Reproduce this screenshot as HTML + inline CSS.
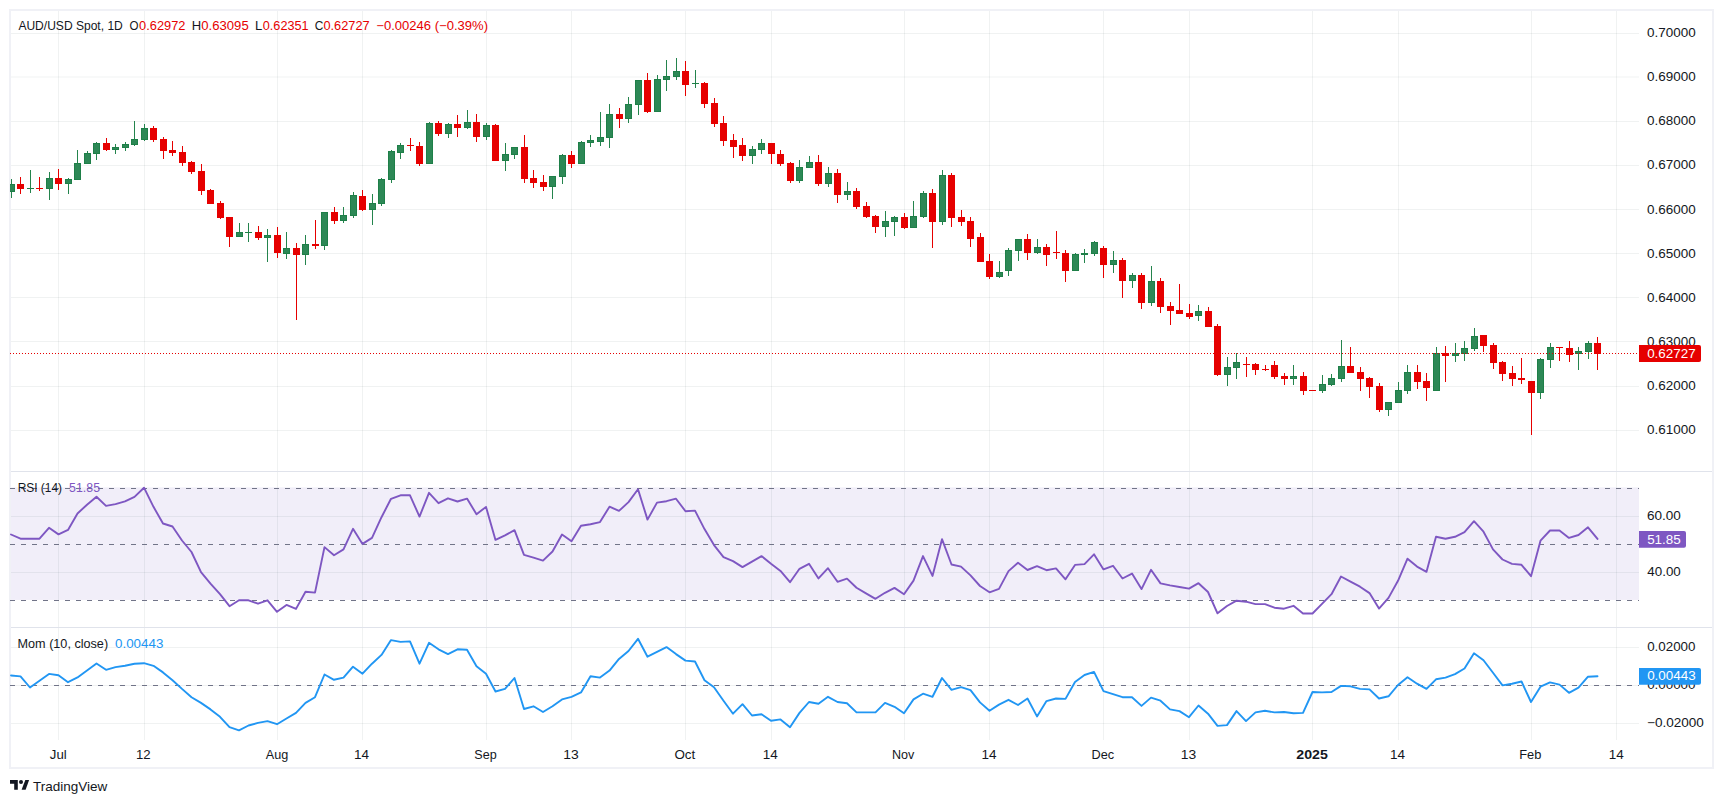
<!DOCTYPE html>
<html lang="en"><head><meta charset="utf-8"><title>AUD/USD Spot, 1D</title>
<style>html,body{margin:0;padding:0;background:#fff;overflow:hidden}svg{display:block}</style></head>
<body>
<svg width="1723" height="803" viewBox="0 0 1723 803" font-family="'Liberation Sans', sans-serif" font-size="12.3px">
<rect width="1723" height="803" fill="#fff"/>
<rect x="11" y="487.4" width="1628" height="112.5" fill="#f1eef9"/>
<g stroke="#203636" stroke-opacity="0.066" stroke-width="1" fill="none">
<path d="M58.5 11V740"/>
<path d="M144.5 11V740"/>
<path d="M277.5 11V740"/>
<path d="M362.5 11V740"/>
<path d="M486.5 11V740"/>
<path d="M571.5 11V740"/>
<path d="M685.5 11V740"/>
<path d="M771.5 11V740"/>
<path d="M904.5 11V740"/>
<path d="M989.5 11V740"/>
<path d="M1103.5 11V740"/>
<path d="M1189.5 11V740"/>
<path d="M1312.5 11V740"/>
<path d="M1398.5 11V740"/>
<path d="M1531.5 11V740"/>
<path d="M1616.5 11V740"/>
<path d="M11 33.5H1639"/>
<path d="M11 77.0H1639"/>
<path d="M11 121.5H1639"/>
<path d="M11 165.5H1639"/>
<path d="M11 209.5H1639"/>
<path d="M11 253.5H1639"/>
<path d="M11 297.5H1639"/>
<path d="M11 341.5H1639"/>
<path d="M11 386.5H1639"/>
<path d="M11 430.5H1639"/>
<path d="M11 516.5H1639"/>
<path d="M11 572.5H1639"/>
<path d="M11 647.5H1639"/>
<path d="M11 685.5H1639"/>
<path d="M11 723.5H1639"/>
</g>
<path d="M11 471.5H1713M11 627.5H1713" stroke="#e0e3eb" stroke-width="1" fill="none"/>
<rect x="10" y="10" width="1703" height="758" fill="none" stroke="#f0f1f6" stroke-width="2"/>
<g stroke="#717488" stroke-width="1" stroke-dasharray="5 6" fill="none">
<path d="M10 488.5H1639"/>
<path d="M10 544.5H1639"/>
<path d="M10 600.5H1639"/>
<path d="M10 685.5H1639"/>
</g>
<defs><clipPath id="cp"><rect x="10" y="11" width="1629" height="729"/></clipPath></defs>
<g clip-path="url(#cp)">
<path fill="#24844d" d="M11 179h1v5h-1zM11 192h1v6h-1zM30 170h1v18h-1zM30 189h1v4h-1zM49 172h1v6h-1zM49 189h1v11h-1zM68 178h1v1h-1zM68 184h1v10h-1zM77 150h1v13h-1zM87 151h1v2h-1zM96 142h1v1h-1zM96 154h1v6h-1zM115 144h1v3h-1zM115 150h1v4h-1zM125 142h1v2h-1zM125 148h1v3h-1zM134 121h1v18h-1zM134 145h1v1h-1zM144 124h1v4h-1zM144 140h1v1h-1zM239 223h1v9h-1zM248 223h1v9h-1zM248 233h1v9h-1zM267 229h1v6h-1zM267 238h1v24h-1zM286 232h1v16h-1zM286 254h1v5h-1zM305 235h1v9h-1zM305 255h1v10h-1zM324 246h1v4h-1zM343 207h1v8h-1zM343 221h1v2h-1zM353 192h1v3h-1zM353 216h1v2h-1zM372 194h1v9h-1zM372 210h1v15h-1zM381 178h1v1h-1zM381 204h1v2h-1zM391 150h1v1h-1zM391 180h1v3h-1zM400 143h1v2h-1zM400 153h1v6h-1zM429 122h1v1h-1zM448 123h1v1h-1zM448 134h1v4h-1zM467 110h1v12h-1zM467 128h1v1h-1zM486 123h1v2h-1zM486 137h1v3h-1zM505 143h1v11h-1zM505 161h1v10h-1zM514 155h1v4h-1zM552 187h1v12h-1zM562 154h1v1h-1zM562 177h1v7h-1zM581 141h1v1h-1zM590 135h1v5h-1zM590 143h1v4h-1zM600 112h1v25h-1zM600 142h1v4h-1zM609 104h1v10h-1zM609 138h1v10h-1zM628 97h1v7h-1zM628 119h1v4h-1zM638 105h1v10h-1zM657 75h1v4h-1zM666 60h1v16h-1zM666 80h1v11h-1zM676 58h1v13h-1zM676 77h1v3h-1zM695 70h1v13h-1zM695 84h1v4h-1zM752 146h1v3h-1zM752 156h1v8h-1zM761 139h1v4h-1zM761 150h1v4h-1zM799 160h1v7h-1zM799 181h1v2h-1zM809 156h1v6h-1zM828 167h1v6h-1zM828 184h1v3h-1zM847 182h1v9h-1zM847 195h1v5h-1zM885 211h1v10h-1zM885 227h1v10h-1zM894 216h1v1h-1zM894 222h1v14h-1zM913 201h1v15h-1zM923 191h1v2h-1zM923 217h1v1h-1zM942 170h1v5h-1zM942 222h1v3h-1zM999 261h1v11h-1zM999 277h1v1h-1zM1008 248h1v2h-1zM1008 271h1v5h-1zM1018 251h1v10h-1zM1037 239h1v8h-1zM1037 253h1v1h-1zM1075 253h1v1h-1zM1084 249h1v4h-1zM1084 255h1v8h-1zM1094 241h1v1h-1zM1094 254h1v2h-1zM1113 251h1v9h-1zM1113 265h1v8h-1zM1132 273h1v2h-1zM1132 281h1v7h-1zM1151 266h1v15h-1zM1151 303h1v3h-1zM1198 305h1v6h-1zM1198 316h1v5h-1zM1227 357h1v10h-1zM1227 375h1v11h-1zM1236 353h1v9h-1zM1236 368h1v11h-1zM1293 365h1v11h-1zM1293 379h1v6h-1zM1322 375h1v9h-1zM1322 391h1v2h-1zM1331 374h1v4h-1zM1331 385h1v1h-1zM1341 340h1v26h-1zM1341 379h1v3h-1zM1388 410h1v6h-1zM1398 382h1v8h-1zM1407 365h1v7h-1zM1407 391h1v3h-1zM1436 347h1v6h-1zM1455 343h1v10h-1zM1455 356h1v6h-1zM1464 341h1v7h-1zM1464 354h1v7h-1zM1474 328h1v8h-1zM1474 349h1v2h-1zM1540 358h1v1h-1zM1540 393h1v6h-1zM1550 343h1v4h-1zM1550 360h1v8h-1zM1578 347h1v4h-1zM1578 354h1v16h-1zM1588 341h1v2h-1zM1588 352h1v7h-1z"/>
<path fill="#1e7f48" d="M8 184h7v8h-7zM27 188h7v1h-7zM46 178h7v11h-7zM65 179h7v5h-7zM74 163h7v17h-7zM84 153h7v11h-7zM93 143h7v11h-7zM112 147h7v3h-7zM122 144h7v4h-7zM131 139h7v6h-7zM141 128h7v12h-7zM236 232h7v5h-7zM245 232h7v1h-7zM264 235h7v3h-7zM283 248h7v6h-7zM302 244h7v11h-7zM321 212h7v34h-7zM340 215h7v6h-7zM350 195h7v21h-7zM369 203h7v7h-7zM378 179h7v25h-7zM388 151h7v29h-7zM397 145h7v8h-7zM426 123h7v41h-7zM445 124h7v10h-7zM464 122h7v6h-7zM483 125h7v12h-7zM502 154h7v7h-7zM511 147h7v8h-7zM549 176h7v11h-7zM559 155h7v22h-7zM578 142h7v22h-7zM587 140h7v3h-7zM597 137h7v5h-7zM606 114h7v24h-7zM625 104h7v15h-7zM635 80h7v25h-7zM654 79h7v33h-7zM663 76h7v4h-7zM673 71h7v6h-7zM692 83h7v1h-7zM749 149h7v7h-7zM758 143h7v7h-7zM796 167h7v14h-7zM806 162h7v6h-7zM825 173h7v11h-7zM844 191h7v4h-7zM882 221h7v6h-7zM891 217h7v5h-7zM910 216h7v12h-7zM920 193h7v24h-7zM939 175h7v47h-7zM996 272h7v5h-7zM1005 250h7v21h-7zM1015 239h7v12h-7zM1034 247h7v6h-7zM1072 254h7v17h-7zM1081 253h7v2h-7zM1091 242h7v12h-7zM1110 260h7v5h-7zM1129 275h7v6h-7zM1148 281h7v22h-7zM1195 311h7v5h-7zM1224 367h7v8h-7zM1233 362h7v6h-7zM1290 376h7v3h-7zM1319 384h7v7h-7zM1328 378h7v7h-7zM1338 366h7v13h-7zM1385 402h7v8h-7zM1395 390h7v13h-7zM1404 372h7v19h-7zM1433 353h7v38h-7zM1452 353h7v3h-7zM1461 348h7v6h-7zM1471 336h7v13h-7zM1537 359h7v34h-7zM1547 347h7v13h-7zM1575 351h7v3h-7zM1585 343h7v9h-7z"/>
<path fill="#2d8856" d="M9 185h5v6h-5zM47 179h5v9h-5zM66 180h5v3h-5zM75 164h5v15h-5zM85 154h5v9h-5zM94 144h5v9h-5zM113 148h5v1h-5zM123 145h5v2h-5zM132 140h5v4h-5zM142 129h5v10h-5zM237 233h5v3h-5zM265 236h5v1h-5zM284 249h5v4h-5zM303 245h5v9h-5zM322 213h5v32h-5zM341 216h5v4h-5zM351 196h5v19h-5zM370 204h5v5h-5zM379 180h5v23h-5zM389 152h5v27h-5zM398 146h5v6h-5zM427 124h5v39h-5zM446 125h5v8h-5zM465 123h5v4h-5zM484 126h5v10h-5zM503 155h5v5h-5zM512 148h5v6h-5zM550 177h5v9h-5zM560 156h5v20h-5zM579 143h5v20h-5zM588 141h5v1h-5zM598 138h5v3h-5zM607 115h5v22h-5zM626 105h5v13h-5zM636 81h5v23h-5zM655 80h5v31h-5zM664 77h5v2h-5zM674 72h5v4h-5zM750 150h5v5h-5zM759 144h5v5h-5zM797 168h5v12h-5zM807 163h5v4h-5zM826 174h5v9h-5zM845 192h5v2h-5zM883 222h5v4h-5zM892 218h5v3h-5zM911 217h5v10h-5zM921 194h5v22h-5zM940 176h5v45h-5zM997 273h5v3h-5zM1006 251h5v19h-5zM1016 240h5v10h-5zM1035 248h5v4h-5zM1073 255h5v15h-5zM1092 243h5v10h-5zM1111 261h5v3h-5zM1130 276h5v4h-5zM1149 282h5v20h-5zM1196 312h5v3h-5zM1225 368h5v6h-5zM1234 363h5v4h-5zM1291 377h5v1h-5zM1320 385h5v5h-5zM1329 379h5v5h-5zM1339 367h5v11h-5zM1386 403h5v6h-5zM1396 391h5v11h-5zM1405 373h5v17h-5zM1434 354h5v36h-5zM1453 354h5v1h-5zM1462 349h5v4h-5zM1472 337h5v11h-5zM1538 360h5v32h-5zM1548 348h5v11h-5zM1576 352h5v1h-5zM1586 344h5v7h-5z"/>
<path fill="#e60000" d="M17 184h7v5h-7zM20 177h1v7h-1zM20 189h1v5h-1zM36 188h7v1h-7zM39 177h1v11h-1zM39 189h1v2h-1zM55 178h7v6h-7zM58 169h1v9h-1zM58 184h1v6h-1zM103 143h7v7h-7zM106 138h1v5h-1zM106 150h1v1h-1zM150 128h7v12h-7zM153 126h1v2h-1zM153 140h1v2h-1zM160 139h7v12h-7zM163 137h1v2h-1zM163 151h1v8h-1zM169 150h7v3h-7zM172 141h1v9h-1zM172 153h1v3h-1zM179 152h7v11h-7zM182 146h1v6h-1zM182 163h1v3h-1zM188 162h7v10h-7zM191 161h1v1h-1zM191 172h1v2h-1zM198 171h7v20h-7zM201 164h1v7h-1zM201 191h1v4h-1zM207 190h7v14h-7zM210 189h1v1h-1zM217 203h7v15h-7zM220 201h1v2h-1zM220 218h1v1h-1zM226 217h7v20h-7zM229 237h1v10h-1zM255 232h7v6h-7zM258 226h1v6h-1zM258 238h1v2h-1zM274 235h7v18h-7zM277 227h1v8h-1zM277 253h1v5h-1zM293 248h7v7h-7zM296 243h1v5h-1zM296 255h1v65h-1zM312 244h7v2h-7zM315 220h1v24h-1zM315 246h1v3h-1zM331 212h7v9h-7zM334 207h1v5h-1zM334 221h1v3h-1zM359 196h7v14h-7zM362 190h1v6h-1zM362 210h1v1h-1zM407 145h7v1h-7zM410 138h1v7h-1zM410 146h1v5h-1zM416 146h7v18h-7zM419 142h1v4h-1zM419 164h1v2h-1zM435 123h7v11h-7zM438 121h1v2h-1zM438 134h1v2h-1zM454 124h7v4h-7zM457 115h1v9h-1zM457 128h1v9h-1zM473 122h7v15h-7zM476 114h1v8h-1zM476 137h1v5h-1zM492 125h7v36h-7zM495 124h1v1h-1zM521 147h7v32h-7zM524 135h1v12h-1zM524 179h1v4h-1zM530 178h7v5h-7zM533 170h1v8h-1zM533 183h1v5h-1zM540 182h7v5h-7zM543 175h1v7h-1zM543 187h1v4h-1zM568 155h7v9h-7zM571 151h1v4h-1zM571 164h1v4h-1zM616 114h7v5h-7zM619 108h1v6h-1zM619 119h1v9h-1zM644 80h7v32h-7zM647 73h1v7h-1zM647 112h1v1h-1zM682 71h7v14h-7zM685 61h1v10h-1zM685 85h1v11h-1zM701 83h7v21h-7zM704 82h1v1h-1zM704 104h1v4h-1zM711 103h7v21h-7zM714 98h1v5h-1zM714 124h1v3h-1zM720 123h7v18h-7zM723 116h1v7h-1zM723 141h1v5h-1zM730 140h7v7h-7zM733 134h1v6h-1zM733 147h1v11h-1zM739 145h7v11h-7zM742 138h1v7h-1zM742 156h1v5h-1zM768 143h7v11h-7zM771 154h1v10h-1zM777 154h7v10h-7zM780 150h1v4h-1zM780 164h1v2h-1zM787 163h7v18h-7zM790 162h1v1h-1zM790 181h1v2h-1zM815 162h7v22h-7zM818 155h1v7h-1zM818 184h1v2h-1zM834 173h7v22h-7zM837 169h1v4h-1zM837 195h1v8h-1zM853 191h7v16h-7zM856 188h1v3h-1zM856 207h1v2h-1zM863 206h7v11h-7zM866 202h1v4h-1zM866 217h1v1h-1zM872 216h7v11h-7zM875 215h1v1h-1zM875 227h1v6h-1zM901 217h7v11h-7zM904 213h1v4h-1zM904 228h1v1h-1zM929 193h7v29h-7zM932 189h1v4h-1zM932 222h1v26h-1zM948 175h7v43h-7zM951 173h1v2h-1zM951 218h1v9h-1zM958 217h7v5h-7zM961 210h1v7h-1zM961 222h1v4h-1zM967 221h7v18h-7zM970 217h1v4h-1zM970 239h1v8h-1zM977 237h7v25h-7zM980 233h1v4h-1zM986 261h7v16h-7zM989 254h1v7h-1zM989 277h1v2h-1zM1024 239h7v14h-7zM1027 234h1v5h-1zM1027 253h1v7h-1zM1043 247h7v8h-7zM1046 244h1v3h-1zM1046 255h1v11h-1zM1053 252h7v1h-7zM1056 231h1v21h-1zM1056 253h1v6h-1zM1062 253h7v18h-7zM1065 250h1v3h-1zM1065 271h1v11h-1zM1100 248h7v17h-7zM1103 246h1v2h-1zM1103 265h1v13h-1zM1119 260h7v21h-7zM1122 258h1v2h-1zM1122 281h1v17h-1zM1138 275h7v28h-7zM1141 273h1v2h-1zM1141 303h1v6h-1zM1157 281h7v26h-7zM1160 278h1v3h-1zM1160 307h1v6h-1zM1167 306h7v5h-7zM1170 302h1v4h-1zM1170 311h1v14h-1zM1176 310h7v4h-7zM1179 284h1v26h-1zM1186 313h7v4h-7zM1189 304h1v9h-1zM1189 317h1v2h-1zM1205 311h7v16h-7zM1208 307h1v4h-1zM1214 326h7v49h-7zM1217 324h1v2h-1zM1217 375h1v1h-1zM1243 364h7v1h-7zM1246 357h1v7h-1zM1246 365h1v12h-1zM1252 364h7v6h-7zM1255 363h1v1h-1zM1255 370h1v5h-1zM1262 369h7v1h-7zM1265 365h1v4h-1zM1265 370h1v1h-1zM1271 365h7v12h-7zM1274 361h1v4h-1zM1274 377h1v2h-1zM1281 376h7v3h-7zM1284 373h1v3h-1zM1284 379h1v6h-1zM1300 376h7v15h-7zM1303 372h1v4h-1zM1303 391h1v4h-1zM1309 390h7v1h-7zM1347 366h7v7h-7zM1350 347h1v19h-1zM1357 372h7v7h-7zM1360 367h1v5h-1zM1360 379h1v12h-1zM1366 378h7v9h-7zM1369 377h1v1h-1zM1369 387h1v11h-1zM1376 386h7v24h-7zM1379 383h1v3h-1zM1379 410h1v2h-1zM1414 372h7v10h-7zM1417 365h1v7h-1zM1417 382h1v7h-1zM1423 381h7v7h-7zM1426 373h1v8h-1zM1426 388h1v13h-1zM1442 353h7v3h-7zM1445 346h1v7h-1zM1445 356h1v26h-1zM1480 335h7v11h-7zM1483 346h1v6h-1zM1490 345h7v18h-7zM1493 343h1v2h-1zM1493 363h1v6h-1zM1499 362h7v12h-7zM1502 361h1v1h-1zM1502 374h1v7h-1zM1509 373h7v6h-7zM1512 366h1v7h-1zM1512 379h1v7h-1zM1518 378h7v2h-7zM1521 358h1v20h-1zM1521 380h1v4h-1zM1528 381h7v12h-7zM1531 393h1v42h-1zM1556 347h7v1h-7zM1559 348h1v13h-1zM1566 348h7v7h-7zM1569 341h1v7h-1zM1569 355h1v7h-1zM1594 343h7v11h-7zM1597 337h1v6h-1zM1597 354h1v16h-1z"/>
<path d="M10 353.5H1639" stroke="#e60000" stroke-width="1" stroke-dasharray="1 2" fill="none"/>
<polyline points="11.0,534.5 20.5,538.7 30.0,538.7 39.5,538.7 49.0,527.8 58.5,534.4 68.0,529.9 77.5,513.5 87.0,504.7 96.5,496.7 106.0,505.9 115.5,504.1 125.0,501.4 134.5,496.9 144.0,487.7 153.5,506.8 163.0,523.5 172.5,526.5 182.0,540.5 191.5,552.0 201.0,572.2 210.5,583.6 220.0,594.2 229.5,606.2 239.0,600.3 248.5,600.3 258.0,603.7 267.5,600.3 277.0,611.8 286.5,604.9 296.0,608.9 305.5,591.7 315.0,592.6 324.5,547.1 334.0,555.2 343.5,549.4 353.0,528.8 362.5,543.9 372.0,537.9 381.5,517.2 391.0,498.8 400.5,495.3 410.0,495.3 419.5,516.6 429.0,492.8 438.5,503.2 448.0,498.3 457.5,501.5 467.0,498.6 476.5,514.2 486.0,506.9 495.5,539.9 505.0,535.4 514.5,530.2 524.0,554.9 533.5,557.7 543.0,560.6 552.5,551.5 562.0,534.5 571.5,541.3 581.0,525.7 590.5,524.3 600.0,522.1 609.5,506.7 619.0,510.9 628.5,502.1 638.0,489.2 647.5,519.6 657.0,502.6 666.5,501.2 676.0,498.7 685.5,511.2 695.0,510.6 704.5,529.1 714.0,545.1 723.5,557.1 733.0,561.1 742.5,567.1 752.0,561.6 761.5,556.1 771.0,563.7 780.5,570.9 790.0,582.2 799.5,568.8 809.0,563.8 818.5,578.4 828.0,568.2 837.5,581.8 847.0,578.6 856.5,587.8 866.0,593.4 875.5,598.8 885.0,592.8 894.5,587.9 904.0,594.2 913.5,580.6 923.0,556.1 932.5,575.9 942.0,539.2 951.5,564.5 961.0,566.6 970.5,575.4 980.0,586.0 989.5,592.3 999.0,588.9 1008.5,571.1 1018.0,562.8 1027.5,570.0 1037.0,566.1 1046.5,570.2 1056.0,568.4 1065.5,579.3 1075.0,564.9 1084.5,564.1 1094.0,554.3 1103.5,569.4 1113.0,565.8 1122.5,578.5 1132.0,573.6 1141.5,589.1 1151.0,569.8 1160.5,583.4 1170.0,585.4 1179.5,587.0 1189.0,588.6 1198.5,583.2 1208.0,592.0 1217.5,613.3 1227.0,606.0 1236.5,600.7 1246.0,601.7 1255.5,604.1 1265.0,604.1 1274.5,607.7 1284.0,608.7 1293.5,605.8 1303.0,613.5 1312.5,613.5 1322.0,603.8 1331.5,594.2 1341.0,576.5 1350.5,581.6 1360.0,586.7 1369.5,593.1 1379.0,608.6 1388.5,597.9 1398.0,580.8 1407.5,558.7 1417.0,566.6 1426.5,571.8 1436.0,536.8 1445.5,538.7 1455.0,536.8 1464.5,532.1 1474.0,521.2 1483.5,531.7 1493.0,549.4 1502.5,559.5 1512.0,563.9 1521.5,564.8 1531.0,576.2 1540.5,540.7 1550.0,530.5 1559.5,530.5 1569.0,537.9 1578.5,535.0 1588.0,527.3 1597.5,538.9" fill="none" stroke="#7e57c2" stroke-width="1.9" stroke-linejoin="round" stroke-linecap="round"/>
<polyline points="11.0,675.5 20.5,676.4 30.0,687.5 39.5,680.8 49.0,673.9 58.5,675.2 68.0,682.2 77.5,677.4 87.0,670.6 96.5,663.5 106.0,669.8 115.5,667.1 125.0,665.8 134.5,663.7 144.0,663.2 153.5,665.8 163.0,672.4 172.5,680.2 182.0,688.9 191.5,697.2 201.0,702.9 210.5,709.4 220.0,716.8 229.5,727.2 239.0,730.3 248.5,725.5 258.0,722.9 267.5,721.1 277.0,724.2 286.5,718.5 296.0,712.9 305.5,702.9 315.0,697.2 324.5,674.5 334.0,679.8 343.5,677.6 353.0,666.7 362.5,673.7 372.0,663.7 381.5,654.9 391.0,640.1 400.5,641.9 410.0,641.4 419.5,663.7 429.0,642.8 438.5,649.3 448.0,654.1 457.5,649.3 467.0,649.7 476.5,666.3 486.0,673.7 495.5,691.5 505.0,688.9 514.5,678.0 524.0,709.0 533.5,706.3 543.0,712.0 552.5,706.3 562.0,699.4 571.5,696.8 581.0,692.4 590.5,676.3 600.0,677.6 609.5,670.6 619.0,658.9 628.5,651.0 638.0,638.8 647.5,656.7 657.0,651.9 666.5,647.1 676.0,654.1 685.5,660.6 695.0,661.5 704.5,680.2 714.0,687.2 723.5,700.7 733.0,713.7 742.5,704.2 752.0,715.5 761.5,714.2 771.0,720.7 780.5,719.4 790.0,727.2 799.5,712.9 809.0,702.0 818.5,703.7 828.0,696.8 837.5,702.0 847.0,703.3 856.5,712.4 866.0,712.4 875.5,712.4 885.0,702.9 894.5,706.8 904.0,713.3 913.5,699.4 923.0,693.7 932.5,696.8 942.0,678.0 951.5,689.8 961.0,687.2 970.5,690.2 980.0,702.4 989.5,710.7 999.0,704.6 1008.5,699.8 1018.0,705.0 1027.5,698.5 1037.0,716.4 1046.5,701.1 1056.0,698.5 1065.5,698.9 1075.0,682.0 1084.5,675.0 1094.0,671.9 1103.5,691.1 1113.0,694.1 1122.5,697.2 1132.0,697.2 1141.5,705.9 1151.0,697.6 1160.5,700.7 1170.0,709.4 1179.5,711.1 1189.0,717.2 1198.5,705.5 1208.0,713.7 1217.5,725.9 1227.0,725.1 1236.5,711.1 1246.0,721.1 1255.5,712.4 1265.0,710.7 1274.5,712.4 1284.0,712.0 1293.5,713.3 1303.0,712.9 1312.5,692.0 1322.0,692.4 1331.5,692.0 1341.0,685.9 1350.5,686.3 1360.0,688.9 1369.5,689.4 1379.0,698.5 1388.5,696.3 1398.0,685.0 1407.5,677.2 1417.0,683.7 1426.5,688.9 1436.0,679.3 1445.5,677.6 1455.0,674.1 1464.5,668.5 1474.0,653.2 1483.5,660.2 1493.0,672.8 1502.5,685.4 1512.0,683.7 1521.5,681.5 1531.0,702.0 1540.5,686.7 1550.0,682.4 1559.5,684.6 1569.0,692.8 1578.5,687.6 1588.0,676.7 1597.5,676.3" fill="none" stroke="#2196f3" stroke-width="1.9" stroke-linejoin="round" stroke-linecap="round"/>
</g>
<text x="1647.05" y="37.0" fill="#131722" textLength="48.64" lengthAdjust="spacingAndGlyphs">0.70000</text>
<text x="1647.05" y="81.1" fill="#131722" textLength="48.64" lengthAdjust="spacingAndGlyphs">0.69000</text>
<text x="1647.05" y="125.2" fill="#131722" textLength="48.64" lengthAdjust="spacingAndGlyphs">0.68000</text>
<text x="1647.05" y="169.4" fill="#131722" textLength="48.64" lengthAdjust="spacingAndGlyphs">0.67000</text>
<text x="1647.05" y="213.5" fill="#131722" textLength="48.64" lengthAdjust="spacingAndGlyphs">0.66000</text>
<text x="1647.05" y="257.6" fill="#131722" textLength="48.64" lengthAdjust="spacingAndGlyphs">0.65000</text>
<text x="1647.05" y="301.7" fill="#131722" textLength="48.64" lengthAdjust="spacingAndGlyphs">0.64000</text>
<text x="1647.05" y="345.8" fill="#131722" textLength="48.64" lengthAdjust="spacingAndGlyphs">0.63000</text>
<text x="1647.05" y="390.0" fill="#131722" textLength="48.64" lengthAdjust="spacingAndGlyphs">0.62000</text>
<text x="1647.05" y="434.1" fill="#131722" textLength="48.64" lengthAdjust="spacingAndGlyphs">0.61000</text>
<text x="1646.91" y="520.0" fill="#131722" textLength="33.87" lengthAdjust="spacingAndGlyphs">60.00</text>
<text x="1647.33" y="576.0" fill="#131722" textLength="33.45" lengthAdjust="spacingAndGlyphs">40.00</text>
<text x="1647.16" y="650.5" fill="#131722" textLength="48.34" lengthAdjust="spacingAndGlyphs">0.02000</text>
<text x="1647.16" y="688.8" fill="#131722" textLength="48.34" lengthAdjust="spacingAndGlyphs">0.00000</text>
<text x="1647.01" y="726.7" fill="#131722" textLength="56.86" lengthAdjust="spacingAndGlyphs">−0.02000</text>
<path d="M1639 345.1H1699.0a2 2 0 0 1 2 2V360.0a2 2 0 0 1 -2 2H1639z" fill="#e60000"/>
<path d="M1639 531.1H1684.0a2 2 0 0 1 2 2V545.8a2 2 0 0 1 -2 2H1639z" fill="#7e57c2"/>
<path d="M1639 667.9H1699.0a2 2 0 0 1 2 2V682.8a2 2 0 0 1 -2 2H1639z" fill="#2196f3"/>
<text x="1647.15" y="358.0" fill="#fff" textLength="48.48" lengthAdjust="spacingAndGlyphs">0.62727</text>
<text x="1647.15" y="544.0" fill="#fff" textLength="33.63" lengthAdjust="spacingAndGlyphs">51.85</text>
<text x="1647.15" y="680.3" fill="#fff" textLength="48.48" lengthAdjust="spacingAndGlyphs">0.00443</text>
<text x="18.40" y="30.1" fill="#131722" textLength="104.40" lengthAdjust="spacingAndGlyphs">AUD/USD Spot, 1D</text>
<text x="129.51" y="30.1" fill="#131722" textLength="9.03" lengthAdjust="spacingAndGlyphs">O</text>
<text x="139.08" y="30.1" fill="#e60000" textLength="46.32" lengthAdjust="spacingAndGlyphs">0.62972</text>
<text x="191.74" y="30.1" fill="#131722" textLength="9.44" lengthAdjust="spacingAndGlyphs">H</text>
<text x="201.27" y="30.1" fill="#e60000" textLength="47.42" lengthAdjust="spacingAndGlyphs">0.63095</text>
<text x="255.14" y="30.1" fill="#131722" textLength="7.26" lengthAdjust="spacingAndGlyphs">L</text>
<text x="262.78" y="30.1" fill="#e60000" textLength="45.81" lengthAdjust="spacingAndGlyphs">0.62351</text>
<text x="314.70" y="30.1" fill="#131722" textLength="8.60" lengthAdjust="spacingAndGlyphs">C</text>
<text x="323.48" y="30.1" fill="#e60000" textLength="46.12" lengthAdjust="spacingAndGlyphs">0.62727</text>
<text x="376.34" y="30.1" fill="#e60000" textLength="111.71" lengthAdjust="spacingAndGlyphs">−0.00246 (−0.39%)</text>
<text x="17.63" y="491.7" fill="#131722" textLength="44.44" lengthAdjust="spacingAndGlyphs">RSI (14)</text>
<text x="69.10" y="491.7" fill="#7e57c2" textLength="30.94" lengthAdjust="spacingAndGlyphs">51.85</text>
<text x="17.57" y="647.6" fill="#131722" textLength="90.53" lengthAdjust="spacingAndGlyphs">Mom (10, close)</text>
<text x="115.06" y="647.6" fill="#2196f3" textLength="48.27" lengthAdjust="spacingAndGlyphs">0.00443</text>
<text x="49.88" y="758.9" fill="#131722" textLength="16.89" lengthAdjust="spacingAndGlyphs">Jul</text>
<text x="136.03" y="758.9" fill="#131722" textLength="14.68" lengthAdjust="spacingAndGlyphs">12</text>
<text x="265.85" y="758.9" fill="#131722" textLength="22.49" lengthAdjust="spacingAndGlyphs">Aug</text>
<text x="354.10" y="758.9" fill="#131722" textLength="15.04" lengthAdjust="spacingAndGlyphs">14</text>
<text x="474.36" y="758.9" fill="#131722" textLength="22.37" lengthAdjust="spacingAndGlyphs">Sep</text>
<text x="563.22" y="758.9" fill="#131722" textLength="15.47" lengthAdjust="spacingAndGlyphs">13</text>
<text x="674.42" y="758.9" fill="#131722" textLength="20.83" lengthAdjust="spacingAndGlyphs">Oct</text>
<text x="762.80" y="758.9" fill="#131722" textLength="15.04" lengthAdjust="spacingAndGlyphs">14</text>
<text x="891.98" y="758.9" fill="#131722" textLength="22.35" lengthAdjust="spacingAndGlyphs">Nov</text>
<text x="981.50" y="758.9" fill="#131722" textLength="15.04" lengthAdjust="spacingAndGlyphs">14</text>
<text x="1091.57" y="758.9" fill="#131722" textLength="22.62" lengthAdjust="spacingAndGlyphs">Dec</text>
<text x="1180.82" y="758.9" fill="#131722" textLength="15.47" lengthAdjust="spacingAndGlyphs">13</text>
<text x="1296.32" y="758.9" fill="#131722" font-weight="700" textLength="31.55" lengthAdjust="spacingAndGlyphs">2025</text>
<text x="1390.00" y="758.9" fill="#131722" textLength="15.04" lengthAdjust="spacingAndGlyphs">14</text>
<text x="1519.21" y="758.9" fill="#131722" textLength="22.15" lengthAdjust="spacingAndGlyphs">Feb</text>
<text x="1608.70" y="758.9" fill="#131722" textLength="15.04" lengthAdjust="spacingAndGlyphs">14</text>
<text x="32.94" y="790.8" fill="#131722" font-size="13px" textLength="74.31" lengthAdjust="spacingAndGlyphs">TradingView</text>
<g fill="#131722"><path d="M10 780H17.8V789.7H14.2V783.8H10z"/><circle cx="21" cy="782.1" r="2"/><path d="M25.3 780H29.1L25.6 789.7H21.6z"/></g>
</svg>
</body></html>
